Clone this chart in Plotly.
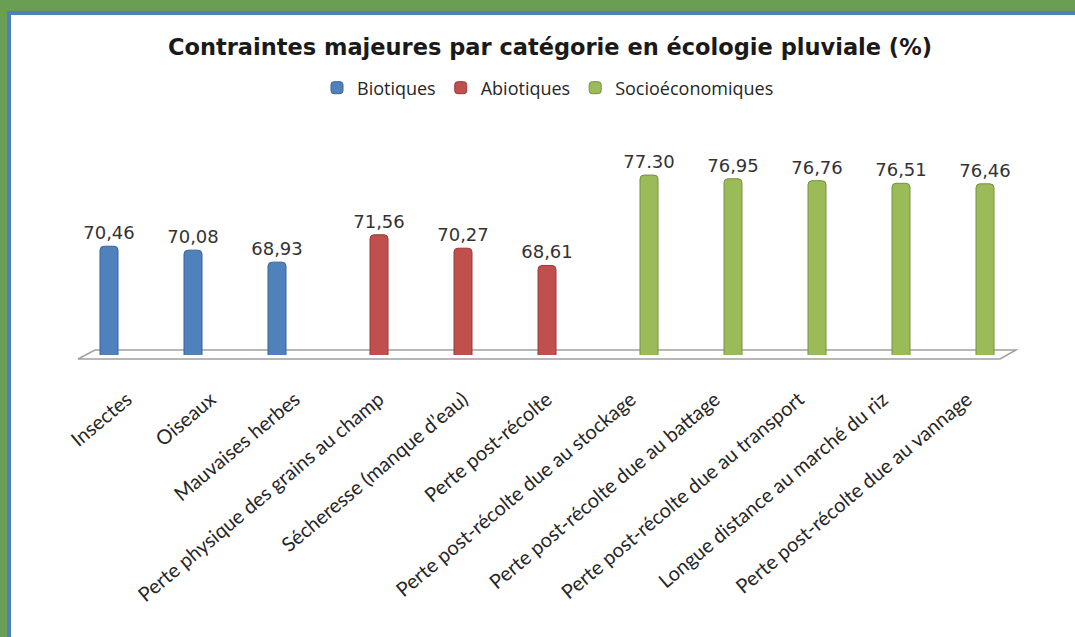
import plotly.graph_objects as go

categories = [
    "Insectes", "Oiseaux", "Mauvaises herbes",
    "Perte physique des grains au champ", "Sécheresse (manque d’eau)", "Perte post-récolte",
    "Perte post-récolte due au stockage", "Perte post-récolte due au battage",
    "Perte post-récolte due au transport", "Longue distance au marché du riz",
    "Perte post-récolte due au vannage",
]
biotiques = [70.46, 70.08, 68.93] + [None] * 8
abiotiques = [None] * 3 + [71.56, 70.27, 68.61] + [None] * 5
socio = [None] * 6 + [77.30, 76.95, 76.76, 76.51, 76.46]
# labels as printed on the original (mixed decimal separators)
bio_text = ["70,46", "70,08", "68,93"] + [""] * 8
abio_text = [""] * 3 + ["71,56", "70,27", "68,61"] + [""] * 5
socio_text = [""] * 6 + ["77.30", "76,95", "76,76", "76,51", "76,46"]

W, H = 1075, 637
L, R, T, B = 85, 1009, 147, 355  # plot area in pixels


def px_x(x):
    return (x - L) / (R - L)


def px_y(y):
    return (B - y) / (B - T)


def strip(x0, x1, y0, y1, color):
    return dict(type="rect", xref="paper", yref="paper", layer="below",
                x0=px_x(x0), x1=px_x(x1), y0=px_y(y1), y1=px_y(y0),
                fillcolor=color, line_width=0)


fig = go.Figure()
series = [
    ("Biotiques", biotiques, bio_text, "#4f81bd", "#3a6597"),
    ("Abiotiques", abiotiques, abio_text, "#c0504d", "#963a38"),
    ("Socioéconomiques", socio, socio_text, "#9bbb59", "#76913f"),
]
for name, vals, txt, col, edge in series:
    fig.add_trace(go.Bar(
        x=categories,
        y=vals,
        name=name,
        text=txt,
        textposition="outside",
        constraintext="none",
        cliponaxis=False,
        textfont=dict(family="DejaVu Sans", size=18, color="#333333"),
        marker=dict(color=col, line=dict(color=edge, width=1), cornerradius=4),
    ))

green, blue = "#6a9e55", "#4f7fba"
shapes = [
    # frame only on top and left, like the original crop
    strip(0, W, 0, 11, green),
    strip(0, 7, 0, H, green),
    strip(7, W, 11, 15, blue),
    strip(7, 11, 11, H, blue),
    # floor
    dict(type="path", xref="paper", yref="paper", layer="below",
         path=f"M {px_x(78)},{px_y(359)} L {px_x(95)},{px_y(350)} L {px_x(1016)},{px_y(350)} "
              f"L {px_x(1000)},{px_y(359)} Z",
         line=dict(color="#a0a0a0", width=1.5), fillcolor="rgba(0,0,0,0)"),
]

fig.update_layout(
    width=W,
    height=H,
    barmode="group",
    bargap=0.357,
    bargroupgap=0,
    paper_bgcolor="white",
    plot_bgcolor="rgba(0,0,0,0)",
    margin=dict(l=L, r=W - R, t=T, b=H - B),
    title=dict(
        text="<b>Contraintes majeures par catégorie en écologie pluviale (%)</b>",
        x=550 / W, xanchor="center", y=1 - 47 / H, yanchor="middle",
        font=dict(family="DejaVu Sans", size=22.5, color="#1a1a1a"),
    ),
    legend=dict(
        orientation="h", x=px_x(548), xanchor="center", y=px_y(88), yanchor="middle",
        font=dict(family="Open Sans", size=18, color="#262626"),
        itemwidth=30, bgcolor="rgba(0,0,0,0)",
    ),
    xaxis=dict(
        tickangle=-40,
        tickfont=dict(family="Lato", size=20, color="#262626"),
        ticklabelstandoff=28,
        showline=False, showgrid=False, ticks="",
    ),
    yaxis=dict(
        range=[60, 80], visible=False, showgrid=False,
    ),
    shapes=shapes,
)

fig.write_html(
    "out.html",
    config={"displayModeBar": False},
    post_script="document.body.style.margin='0';document.body.style.overflow='hidden';",
)
